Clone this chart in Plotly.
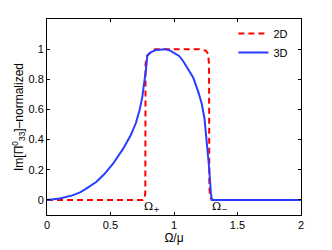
import plotly.graph_objects as go

# 3D curve
x3d = [0, 0.1, 0.2, 0.26, 0.3, 0.39, 0.45, 0.52, 0.6, 0.66, 0.7, 0.73, 0.75, 0.77, 0.78, 0.79,
       0.82, 0.86, 0.9, 0.93, 0.97, 1.0, 1.04, 1.073, 1.11, 1.152, 1.19, 1.218, 1.24, 1.257,
       1.276, 1.29, 1.297, 1.32, 1.5, 2.0]
y3d = [0, 0.01, 0.03, 0.05, 0.07, 0.12, 0.17, 0.24, 0.34, 0.43, 0.51, 0.60, 0.68, 0.79, 0.87, 0.96,
       0.98, 0.995, 1.0, 1.0, 0.99, 0.976, 0.955, 0.92, 0.87, 0.81, 0.72, 0.64, 0.54, 0.41,
       0.22, 0.05, 0.0, 0.0, 0.0, 0.0]

# 2D curve
x2d = [0, 0.755, 0.768, 0.774, 0.776, 0.785, 0.81, 0.85, 1.2, 1.25, 1.268, 1.276,
       1.278, 1.283, 1.295, 1.32, 2.0]
y2d = [0, 0, 0.01, 0.05, 0.9, 0.95, 0.975, 1.0, 1.0, 0.99, 0.97, 0.9,
       0.1, 0.02, 0.005, 0, 0]

xticks = [0, 0.5, 1, 1.5, 2]
yticks = [0, 0.2, 0.4, 0.6, 0.8, 1]

FONT = "Liberation Sans, Arial, sans-serif"

fig = go.Figure()
fig.add_trace(go.Scatter(x=x2d, y=y2d, mode="lines", name="2D",
                         line=dict(color="#ff0000", width=2, dash="6px,4px")))
fig.add_trace(go.Scatter(x=x3d, y=y3d, mode="lines", name="3D",
                         line=dict(color="#2a3cff", width=2)))

fig.add_annotation(x=0.83, y=0.015, text="Ω<sub>+</sub>", showarrow=False,
                   xanchor="center", yanchor="top", font=dict(size=11, family="DejaVu Serif, serif", color="black"))
fig.add_annotation(x=1.36, y=0.015, text="Ω<sub>−</sub>", showarrow=False,
                   xanchor="center", yanchor="top", font=dict(size=11, family="DejaVu Serif, serif", color="black"))

axis_common = dict(showgrid=False, zeroline=False, showline=True, linecolor="black",
                   linewidth=1, mirror="ticks", ticks="inside", ticklen=3,
                   tickcolor="black", tickfont=dict(size=11, family=FONT, color="black"),
                   automargin=False)

fig.update_xaxes(range=[0, 2], tickvals=xticks, ticktext=[str(v) for v in xticks],
                 title=dict(text="Ω/μ", standoff=2, font=dict(size=12, family=FONT, color="black")),
                 **axis_common)
fig.update_yaxes(range=[-0.1, 1.2], tickvals=yticks, ticktext=[str(v) for v in yticks],
                 title=dict(text="Im[Π<sup>0</sup><sub>33</sub>]–normalized", standoff=2,
                            font=dict(size=12, family=FONT, color="black")),
                 **axis_common)

fig.update_layout(
    width=332, height=250,
    margin=dict(l=47, r=31, t=19, b=35),
    plot_bgcolor="white", paper_bgcolor="white",
    showlegend=True,
    legend=dict(x=0.97, y=1, xanchor="right", yanchor="top", bgcolor="rgba(0,0,0,0)",
                font=dict(size=11, family=FONT, color="black"), itemwidth=30,
                tracegroupgap=0),
)

fig.write_html("out.html", config={"displayModeBar": False},
               post_script="document.body.style.margin='0';document.body.style.padding='0';")
